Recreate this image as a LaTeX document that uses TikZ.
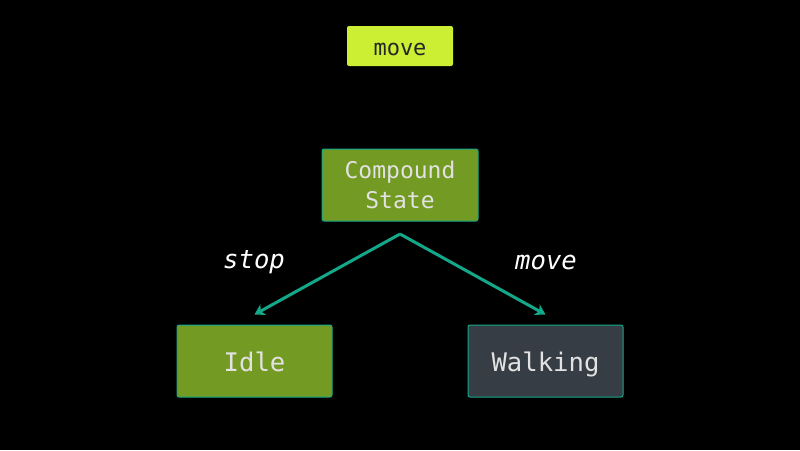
\documentclass[tikz,border=0pt]{standalone}
\usepackage{fontspec}
\setmonofont{DejaVu Sans Mono}
\usetikzlibrary{arrows.meta,positioning}
\definecolor{lime}{HTML}{CCEE33}
\definecolor{olive}{HTML}{739A23}
\definecolor{slate}{HTML}{373D45}
\definecolor{teal}{HTML}{14A88A}
\definecolor{pale}{HTML}{E2E2E2}

\begin{document}
\begin{tikzpicture}[x=1pt,y=-1pt,
		state/.style={draw=teal,line width=1pt,rounded corners=2pt,minimum width=155pt,minimum height=72pt,text=pale,font=\ttfamily\fontsize{25.6}{30}\selectfont,align=center,text height=21pt,text depth=0pt},
		label/.style={text=white,font=\ttfamily\itshape\fontsize{25.6}{30}\selectfont},
		trans/.style={-{Stealth[length=10pt,width=12pt,inset=3pt]},draw=teal,line width=3pt}]
				\fill[black] (0,0) rectangle (800,450);
				\node[fill=lime,rounded corners=2pt,minimum width=106pt,minimum height=40pt,text=black!85,font=\ttfamily\fontsize{22}{26}\selectfont,text height=18pt,text depth=0pt] (E) at (400,46) {move};
				\node[state,fill=olive,minimum width=156pt,font=\ttfamily\fontsize{23}{30}\selectfont,text height=,text depth=] (C) at (400,185) {Compound\\State};
				\node[state,fill=olive] (I) at (254.5,361) {Idle};
				\node[state,fill=slate] (W) at (545.5,361) {Walking};
				\coordinate (F) at (400,234);
				\coordinate[above=10pt of I.north] (Ie);
				\coordinate[above=10pt of W.north] (We);
				\node[label] (S) at (254,262) {stop};
				\node[label] (M) at (546,262) {move};

				\draw [trans] (F) -- (Ie);
				\draw [trans] (F) -- (We);
			\end{tikzpicture}
\end{document}
